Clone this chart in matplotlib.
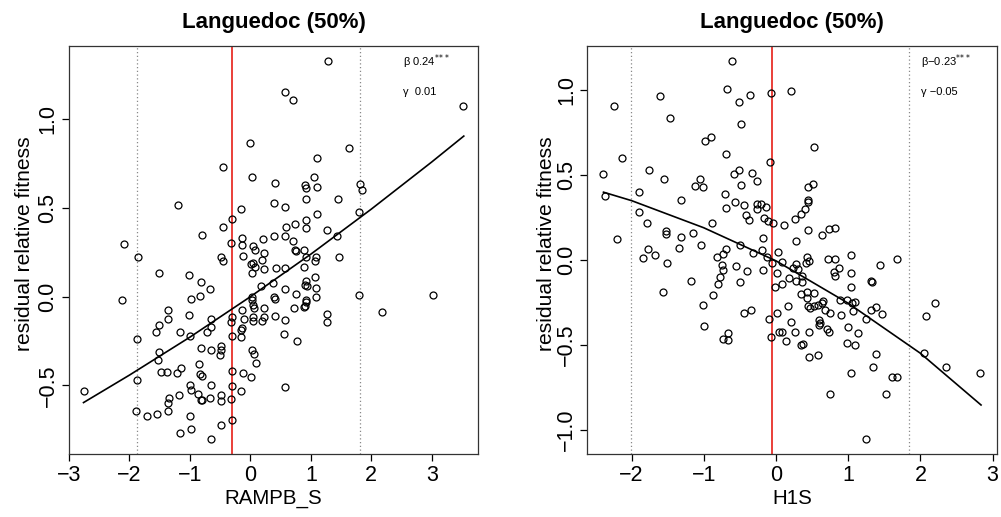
import numpy as np
import matplotlib
matplotlib.use("Agg")
import matplotlib.pyplot as plt

plt.rcParams['font.family'] = ['Liberation Sans', 'DejaVu Sans']

# ---------------- Left panel data (RAMPB_S) ----------------
left_x = [1.276, 0.569, 0.707, 3.525, 0.0, 1.630, 1.110, -0.459, 0.028, 1.055, 0.409, 0.901, 0.928,
          1.105, 1.812, 1.845, 0.917, 1.453, -1.193, 0.387, 0.569, -0.149, 1.110, 1.801, -0.309,
          -0.459, 0.586, 0.735, 0.912, 0.928, 1.271,
          1.431, -0.801, -2.094, -1.856, -0.320, -0.144, -0.144, 0.039, 0.072, 0.210, 0.387, 0.580,
          0.707, 0.735, 0.757, 0.890, 1.083, 0.923, 1.077, 1.459, 0.221, 0.193, -0.127, -0.486,
          -0.459, 0.017, 0.044, 0.072, 0.022, 0.232, 0.431, 0.580, 0.895, -1.519, -1.022, 1.077,
          0.912, 0.934, 0.906, 1.083, 0.376, 0.182, 0.569, -0.823, -0.669, -0.829, 0.751, 0.033,
          0.033, 0.392, 0.403, 0.928, 0.912, 1.083, 1.790, 3.022, -2.116, -0.989, 0.044, 0.055,
          0.227, -0.138, 0.901, 0.890, 0.729, -1.365, -1.365, -1.022, -0.646, -0.309, -0.320,
          -0.105, 0.044, 0.044, 0.193, 0.232, 0.403, 0.580, 1.271, 1.271, 2.171, -1.514, -1.569,
          -1.166, -0.994, -0.724, -0.657, -0.133, -0.155, -0.149, -0.309, 0.552, 0.768, -1.878,
          -0.481, -0.486, -0.508, -0.646, -0.812, 0.022, 0.055, 0.088, -1.519, -1.536, -0.856,
          -0.840, -0.807, -1.155, -1.210, -1.486, -1.381, -0.298, -0.127, 0.011, -1.878, -2.757,
          -1.006, -0.978, -0.652, -0.304, -0.155, 0.569, -0.867, -0.823, -0.807, -1.188, -1.348,
          -1.365, -0.663, -0.486, -0.492, -0.320, -1.889, -1.713, -1.541, -1.365, -1.006, -0.304,
          -0.492, -0.989, -1.160, -0.652]
left_y = [1.329, 1.152, 1.111, 1.075, 0.868, 0.840, 0.780, 0.729, 0.677, 0.677, 0.641, 0.630, 0.615,
          0.620, 0.635, 0.602, 0.551, 0.551, 0.517, 0.526, 0.508, 0.494, 0.464, 0.476, 0.438,
          0.393, 0.393, 0.410, 0.432, 0.387, 0.376,
          0.342, 0.348, 0.297, 0.222, 0.303, 0.333, 0.291, 0.286, 0.263, 0.325, 0.340, 0.340,
          0.316, 0.263, 0.259, 0.263, 0.226, 0.226, 0.203, 0.226, 0.244, 0.207, 0.231, 0.222,
          0.201, 0.184, 0.188, 0.169, 0.132, 0.156, 0.162, 0.160, 0.169, 0.132, 0.122, 0.113,
          0.086, 0.060, 0.064, 0.049, 0.079, 0.058, 0.043, 0.081, 0.041, 0.006, 0.017, 0.000,
          -0.019, -0.004, -0.015, -0.019, -0.028, 0.000, 0.011, 0.009, -0.021, -0.015, -0.047, -0.066,
          -0.066, -0.073, -0.053, -0.060, -0.066, -0.075, -0.128, -0.105, -0.128, -0.117, -0.141,
          -0.124, -0.113, -0.137, -0.137, -0.113, -0.109, -0.133, -0.098, -0.143, -0.088, -0.162, -0.201,
          -0.201, -0.224, -0.197, -0.169, -0.175, -0.190, -0.229, -0.224, -0.211, -0.252, -0.241,
          -0.278, -0.303, -0.331, -0.303, -0.288, -0.299, -0.323, -0.374, -0.314, -0.357, -0.382,
          -0.436, -0.447, -0.402, -0.430, -0.427, -0.425, -0.417, -0.432, -0.451, -0.470, -0.532,
          -0.496, -0.524, -0.500, -0.504, -0.530, -0.511, -0.547, -0.583, -0.583, -0.555, -0.570,
          -0.602, -0.571, -0.556, -0.590, -0.577, -0.645, -0.671, -0.664, -0.645, -0.673, -0.697,
          -0.722, -0.746, -0.767, -0.803]
left_curve_x = [-2.76, -2.0, -1.0, 0.0, 1.0, 2.0, 3.0, 3.53]
left_curve_y = [-0.597, -0.442, -0.228, 0.0, 0.240, 0.494, 0.760, 0.906]
left_red = -0.305
left_dotted = [-1.874, 1.813]
left_beta, left_gamma = " 0.24", "  0.01"
left_xticks = [-3, -2, -1, 0, 1, 2, 3]
left_yticks = [-0.5, 0.0, 0.5, 1.0]

# ---------------- Right panel data (H1S) ----------------
right_x = [-0.605, -0.683, -0.360, -0.074, 0.203, -1.607, -0.517, -2.248, -1.464, -0.485, -0.983,
           -0.905, 0.522, -0.693, -2.138, -0.088, -2.401, -1.764, -1.551, -1.048, -1.127, -1.016,
           -0.582, -0.517, -0.489, -0.332, -0.268, -1.893, -2.364, -1.311, -0.706, -0.697, -0.563,
           -0.448, -0.263, -0.203, -0.263, -0.139, -0.420, -0.379, -0.166, -0.106, -0.037, 0.106,
           -1.898, -1.782, -0.882, 0.448, 0.508, 0.439, 0.443, 0.402, 0.351, 0.263, 0.439, 0.739,
           0.813, -1.528,
           -1.524, -2.198, -1.316, -1.145, -1.339, -1.039, -1.768, -1.847, -1.676, -1.510, 0.282,
           0.633, -0.499, -0.323, -0.189, 0.028, -0.697, -0.729, -0.817, -0.120, -0.055, 0.083,
           0.429, 0.457, 0.720, 0.822, 1.034, 1.671, 1.445, -0.743, -0.734, -0.559, -0.406, -0.185,
           0.009, 0.282, 0.240, 0.309, 0.411, 0.185, 0.277, 0.360, 0.365, 0.803, 0.817, 0.868,
           1.034, 1.043, 1.311, 1.330, -1.177, -0.771, -0.799, -0.499, 0.088, -0.018, -1.565,
           -0.868, -1.016, 0.351, 0.434, 0.531, 0.425, 0.448, 0.466, 0.531, 0.637, 0.656, 0.582,
           0.683, 0.748, 0.891, 0.979, 1.053, 1.099, 1.071, 0.896, 0.166, 0.014, -0.346, -0.443,
           -0.092, 1.320, 1.385, 1.468, 1.251, 0.203, 0.591, 0.605, 0.591, 0.706, 0.729, 0.997,
           1.131, 0.037, 0.088, 0.263, 0.462, 0.139, -0.065, -0.997, -0.669, -0.734, -0.669,
           0.351, 0.369, 0.457, 0.577, 0.979, 1.099, 1.390, 2.054, 1.343, 1.034, 1.607, 1.671,
           2.350, 2.826, 2.082, 2.202, 0.753, 1.524, 1.247, -0.185]
right_y = [1.173, 1.006, 0.975, 0.983, 0.995, 0.967, 0.930, 0.910, 0.839, 0.802, 0.704, 0.725,
           0.664, 0.623, 0.599, 0.578, 0.505, 0.533, 0.478, 0.478, 0.438, 0.432, 0.507, 0.531,
           0.442, 0.513, 0.466, 0.403, 0.379, 0.354, 0.389, 0.309, 0.340, 0.326, 0.328, 0.330,
           0.303, 0.311, 0.267, 0.236, 0.246, 0.228, 0.216, 0.204, 0.283, 0.220, 0.218, 0.428,
           0.446, 0.356, 0.342, 0.301, 0.271, 0.242, 0.177, 0.181, 0.191, 0.171,
           0.153, 0.124, 0.138, 0.157, 0.069, 0.088, 0.063, 0.014, 0.029, -0.016, 0.110, 0.147,
           0.090, 0.043, 0.061, 0.047, 0.067, 0.035, 0.016, 0.016, -0.016, -0.012, 0.018, -0.006,
           0.006, 0.006, 0.031, 0.006, -0.028, -0.029, -0.059, -0.033, -0.063, -0.059, -0.075,
           -0.026, -0.045, -0.055, -0.020, -0.104, -0.122, -0.128, -0.092, -0.073, -0.092, -0.049,
           -0.077, -0.159, -0.124, -0.130, -0.124, -0.098, -0.143, -0.128, -0.140, -0.161, -0.189,
           -0.208, -0.265, -0.200, -0.187, -0.197, -0.222, -0.271, -0.281, -0.269, -0.252, -0.242,
           -0.265, -0.295, -0.311, -0.236, -0.236, -0.252, -0.246, -0.299, -0.322, -0.269, -0.311,
           -0.295, -0.311, -0.346, -0.295, -0.279, -0.320, -0.346, -0.364, -0.354, -0.373, -0.385,
           -0.407, -0.423, -0.395, -0.428, -0.423, -0.423, -0.426, -0.425, -0.476, -0.456, -0.391,
           -0.432, -0.466, -0.472, -0.503, -0.497, -0.574, -0.562, -0.491, -0.501, -0.554, -0.546,
           -0.633, -0.666, -0.688, -0.688, -0.629, -0.668, -0.330, -0.256, -0.788, -0.788, -1.053,
           0.132]
right_curve_x = [-2.39, -2.0, -1.0, 0.0, 1.0, 2.0, 2.84]
right_curve_y = [0.400, 0.350, 0.190, -0.005, -0.255, -0.550, -0.855]
right_red = -0.05
right_dotted = [-2.01, 1.84]
right_beta, right_gamma = "\u22120.23", " \u22120.05"
right_xticks = [-2, -1, 0, 1, 2, 3]
right_yticks = [-1.0, -0.5, 0.0, 0.5, 1.0]

title_text = "Languedoc (50%)"
ylabel_text = "residual relative fitness"

W, H = 1001, 517
fig = plt.figure(figsize=(W / 100, H / 100), dpi=100)


def make_panel(rect, px, py, cx, cy, red, dotted, beta, gamma, xticks, yticks,
               xlim, ylim, xlabel, ylab_x):
    ax = fig.add_axes(rect)
    ax.set_xlim(*xlim)
    ax.set_ylim(*ylim)
    for d in dotted:
        ax.axvline(d, color='#888888', linestyle=(0, (1, 2)), linewidth=0.9)
    ax.axvline(red, color='#e8302a', linewidth=1.3)
    ax.plot(cx, cy, color='black', linewidth=1.2)
    ax.plot(px, py, linestyle='none', marker='o', markersize=5.0,
            markerfacecolor='none', markeredgecolor='black', markeredgewidth=0.9)
    ax.set_xticks(xticks)
    ax.set_yticks(yticks)
    ax.set_xticklabels([f"{t:g}".replace('-', '\u2212') for t in xticks])
    ax.set_yticklabels([f"{t:.1f}".replace('-', '\u2212') for t in yticks],
                       rotation=90, va='center')
    ax.tick_params(axis='both', direction='out', length=5, width=0.9,
                   labelsize=15.5, pad=3)
    ax.tick_params(axis='y', pad=2.5)
    for s in ax.spines.values():
        s.set_linewidth(0.9)
        s.set_color('#333333')
    # annotations
    ax.text(0.816, 0.961, "\u03b2" + beta + r"$^{*\!*\!*}$", transform=ax.transAxes,
            fontsize=8, va='center', ha='left')
    ax.text(0.816, 0.887, "\u03b3" + gamma, transform=ax.transAxes,
            fontsize=8, va='center', ha='left')
    cxm = rect[0] + rect[2] / 2
    fig.text(cxm, 1 - 28 / H, title_text, ha='center', va='baseline',
             fontsize=16, fontweight='bold')
    fig.text(cxm, 1 - 499 / H, xlabel, ha='center', va='center', fontsize=14.8)
    fig.text(ylab_x / W, 1 - 244 / H, ylabel_text, ha='center', va='center',
             rotation=90, fontsize=15.2)
    return ax


make_panel([69 / W, 1 - 454 / H, (478 - 69) / W, (454 - 46) / H],
           left_x, left_y, left_curve_x, left_curve_y, left_red, left_dotted,
           left_beta, left_gamma, left_xticks, left_yticks,
           (-3.0, 3.765), (-0.887, 1.414), "RAMPB_S", 25)
make_panel([587.3 / W, 1 - 454 / H, (996.7 - 587.3) / W, (454 - 46) / H],
           right_x, right_y, right_curve_x, right_curve_y, right_red, right_dotted,
           right_beta, right_gamma, right_xticks, right_yticks,
           (-2.614, 3.057), (-1.144, 1.262), "H1S", 546)

fig.savefig("out.png", dpi=100)
